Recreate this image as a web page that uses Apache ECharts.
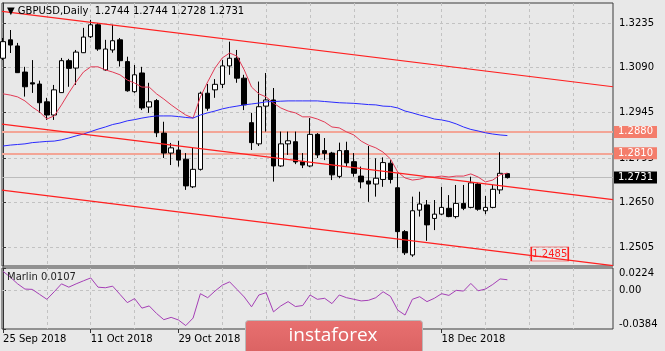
<!DOCTYPE html>
<html>
<head>
<meta charset="utf-8">
<script src="https://cdn.jsdelivr.net/npm/echarts@6/dist/echarts.min.js"></script>
<style>
html, body { margin: 0; padding: 0; background: #e8e8e8; }
#main { width: 665px; height: 351px; }
</style>
</head>
<body>
<div id="main"></div>
<script>
var myChart = echarts.init(document.getElementById('main'));

// GBPUSD daily bars, 25 Sep 2018 .. end of Dec 2018 (index 0 = 25 Sep)
var opens = [1.3120, 1.3180, 1.3160, 1.3075, 1.3040, 1.3036, 1.2978, 1.2935, 1.3008, 1.3112,
    1.3088, 1.3138, 1.3190, 1.3229, 1.3082, 1.3147, 1.3180, 1.3109, 1.3011, 1.3072,
    1.2961, 1.2982, 1.2876, 1.2811, 1.2821, 1.2791, 1.2701, 1.2758, 1.3006, 1.3017,
    1.3035, 1.3095, 1.3120, 1.3055, 1.2910, 1.2841, 1.2964, 1.2984, 1.2769, 1.2841,
    1.2848, 1.2783, 1.2769, 1.2872, 1.2819, 1.2811, 1.2735, 1.2819, 1.2783, 1.2736,
    1.2720, 1.2710, 1.2725, 1.2778, 1.2698, 1.2555, 1.2479, 1.2625, 1.2642, 1.2598,
    1.2612, 1.2631, 1.2604, 1.2647, 1.2634, 1.2710, 1.2623, 1.2634, 1.2691, 1.2744];
var highs = [1.3186, 1.3212, 1.3170, 1.3092, 1.3114, 1.3047, 1.2991, 1.3033, 1.3121, 1.3118,
    1.3147, 1.3219, 1.3245, 1.3235, 1.3180, 1.3229, 1.3186, 1.3125, 1.3098, 1.3092,
    1.3040, 1.2987, 1.2913, 1.2844, 1.2851, 1.2811, 1.2828, 1.3011, 1.3036, 1.3052,
    1.3114, 1.3174, 1.3147, 1.3066, 1.2942, 1.3044, 1.3072, 1.3023, 1.2881, 1.2881,
    1.2881, 1.2811, 1.2925, 1.2876, 1.2860, 1.2815, 1.2845, 1.2848, 1.2811, 1.2767,
    1.2834, 1.2794, 1.2797, 1.2788, 1.2745, 1.2560, 1.2669, 1.2685, 1.2658, 1.2658,
    1.2701, 1.2674, 1.2707, 1.2707, 1.2734, 1.2714, 1.2671, 1.2707, 1.2814, 1.2744];
var lows = [1.3114, 1.3137, 1.3072, 1.2995, 1.3007, 1.2942, 1.2919, 1.2919, 1.3007, 1.3027,
    1.3033, 1.3137, 1.3186, 1.3144, 1.3079, 1.3138, 1.3093, 1.3011, 1.3007, 1.2951,
    1.2942, 1.2863, 1.2795, 1.2772, 1.2767, 1.2691, 1.2697, 1.2754, 1.2949, 1.2991,
    1.3023, 1.3066, 1.3040, 1.2951, 1.2821, 1.2834, 1.2881, 1.2718, 1.2766, 1.2805,
    1.2775, 1.2762, 1.2765, 1.2795, 1.2788, 1.2723, 1.2729, 1.2767, 1.2734, 1.2696,
    1.2652, 1.2669, 1.2701, 1.2712, 1.2501, 1.2479, 1.2473, 1.2604, 1.2525, 1.2560,
    1.2609, 1.2602, 1.2598, 1.2625, 1.2631, 1.2623, 1.2612, 1.2631, 1.2678, 1.2728];
var closes = [1.3174, 1.3163, 1.3073, 1.3027, 1.3036, 1.2975, 1.2935, 1.3017, 1.3112, 1.3087,
    1.3140, 1.3189, 1.3229, 1.3150, 1.3150, 1.3177, 1.3112, 1.3014, 1.3066, 1.2958,
    1.2978, 1.2877, 1.2811, 1.2828, 1.2788, 1.2704, 1.2758, 1.3006, 1.2957, 1.3035,
    1.3095, 1.3120, 1.3055, 1.2968, 1.2845, 1.2962, 1.2984, 1.2769, 1.2841, 1.2851,
    1.2782, 1.2772, 1.2872, 1.2805, 1.2810, 1.2740, 1.2819, 1.2779, 1.2745, 1.2717,
    1.2710, 1.2729, 1.2780, 1.2725, 1.2555, 1.2486, 1.2623, 1.2645, 1.2577, 1.2612,
    1.2634, 1.2604, 1.2647, 1.2631, 1.2714, 1.2628, 1.2634, 1.2693, 1.2745, 1.2731];

// moving averages (red fast, blue slow)
var maFast = [1.3004, 1.3000, 1.2994, 1.2981, 1.2961, 1.2945, 1.2922, 1.2932, 1.2968, 1.3007,
    1.3043, 1.3075, 1.3092, 1.3092, 1.3082, 1.3075, 1.3066, 1.3049, 1.3039, 1.3026,
    1.3026, 1.3004, 1.2987, 1.2968, 1.2951, 1.2935, 1.2925, 1.2994, 1.3043, 1.3088,
    1.3121, 1.3137, 1.3127, 1.3082, 1.3026, 1.3004, 1.2994, 1.2974, 1.2958, 1.2948,
    1.2942, 1.2929, 1.2929, 1.2922, 1.2912, 1.2896, 1.2893, 1.2880, 1.2870, 1.2850,
    1.2837, 1.2828, 1.2814, 1.2792, 1.2749, 1.2730, 1.2723, 1.2726, 1.2733, 1.2733,
    1.2736, 1.2733, 1.2736, 1.2736, 1.2743, 1.2733, 1.2717, 1.2723, 1.2740, 1.2746];
var maSlow = [1.2834, 1.2837, 1.2839, 1.2841, 1.2845, 1.2847, 1.2849, 1.2850, 1.2854, 1.2860,
    1.2867, 1.2873, 1.2881, 1.2889, 1.2896, 1.2904, 1.2909, 1.2916, 1.2920, 1.2925,
    1.2929, 1.2932, 1.2932, 1.2932, 1.2930, 1.2927, 1.2925, 1.2935, 1.2942, 1.2948,
    1.2955, 1.2960, 1.2964, 1.2968, 1.2971, 1.2974, 1.2978, 1.2979, 1.2980, 1.2981,
    1.2981, 1.2981, 1.2981, 1.2981, 1.2979, 1.2977, 1.2975, 1.2974, 1.2973, 1.2971,
    1.2969, 1.2968, 1.2964, 1.2963, 1.2958, 1.2948, 1.2942, 1.2935, 1.2929, 1.2922,
    1.2919, 1.2914, 1.2906, 1.2896, 1.2888, 1.2883, 1.2877, 1.2873, 1.2870, 1.2868];

// Marlin oscillator
var marlin = [0.0191, 0.0132, 0.0066, 0.0014, 0.0011, -0.0039, -0.0088, -0.0013, 0.0066, 0.0033,
    0.0066, 0.0096, 0.0125, 0.0033, 0.0027, 0.0043, -0.0039, -0.0121, -0.0081, -0.0176,
    -0.0154, -0.0229, -0.0291, -0.0268, -0.0294, -0.0350, -0.0275, -0.0032, -0.0072, -0.0006,
    0.0053, 0.0086, 0.0011, -0.0065, -0.0163, -0.0045, -0.0022, -0.0213, -0.0154, -0.0111,
    -0.0160, -0.0150, -0.0045, -0.0088, -0.0078, -0.0131, -0.0045, -0.0072, -0.0088, -0.0104,
    -0.0098, -0.0072, -0.0013, -0.0058, -0.0196, -0.0245, -0.0088, -0.0062, -0.0111, -0.0078,
    -0.0032, -0.0049, 0.0001, -0.0006, 0.0070, -0.0003, 0.0014, 0.0060, 0.0115, 0.0107];

// trend channel (bar index, price)
var channelTop = [[-0.14, 1.3273], [83.45, 1.3027]];
var channelMid = [[-0.14, 1.2905], [83.45, 1.2659]];
var channelLow = [[-0.14, 1.2690], [83.45, 1.2444]];

var levels = [1.2880, 1.2810];
var lastPrice = 1.2731;
var targetNote = { idx: 74.8, price: 1.2482, text: '1.2485' };

var dateTickIdx = [0, 12, 24, 36, 48, 60];
var dateTickLabels = ['25 Sep 2018', '11 Oct 2018', '29 Oct 2018', '14 Nov 2018', '30 Nov 2018', '18 Dec 2018'];
var gridIdx = [6, 12, 18, 24, 30, 36, 42, 48, 54, 60, 66, 72, 78];
var priceTicks = [1.2505, 1.2650, 1.2795, 1.2945, 1.3090, 1.3235];
var marlinTicks = [-0.0384, 0, 0.0224];

var xMin = -0.14, xMax = 83.45;
var font = 'DejaVu Sans';
var dash = { color: '#c2c2c2', type: [3, 3], width: 1 };

function withIdx(arr) {
    return arr.map(function (v, i) { return [i, v]; });
}

var last = opens.length - 1;
var candles = opens.map(function (o, i) {
    return [i, o, closes[i], lows[i], highs[i]];
});

var splitXAxis = function (gi) {
    return {
        gridIndex: gi, type: 'value', min: xMin, max: xMax, position: 'bottom',
        axisLine: { show: false },
        axisTick: { show: false, customValues: gridIdx },
        axisLabel: { show: false },
        splitLine: { show: true, lineStyle: dash }
    };
};

option = {
    backgroundColor: '#e8e8e8',
    animation: false,
    textStyle: { fontFamily: font },
    title: [
        {
            text: '\u25BC GBPUSD,Daily  ' + opens[last].toFixed(4) + ' ' + highs[last].toFixed(4) + ' ' +
                lows[last].toFixed(4) + ' ' + closes[last].toFixed(4),
            left: 7, top: 6, padding: 0,
            textStyle: { fontSize: 10, fontWeight: 'normal', color: '#000', fontFamily: font }
        },
        {
            text: 'Marlin ' + marlin[last].toFixed(4),
            left: 7, top: 272, padding: 0,
            textStyle: { fontSize: 10, fontWeight: 'normal', color: '#222', fontFamily: font }
        }
    ],
    grid: [
        { left: 2, top: 3, width: 611, height: 263, show: true, borderColor: '#3a3a3a', borderWidth: 1, backgroundColor: 'transparent' },
        { left: 2, top: 268, width: 611, height: 61, show: true, borderColor: '#3a3a3a', borderWidth: 1, backgroundColor: 'transparent' }
    ],
    xAxis: [
        splitXAxis(0),
        splitXAxis(1),
        {
            gridIndex: 1, type: 'value', min: xMin, max: xMax, position: 'bottom',
            axisLine: { show: false },
            axisTick: { show: true, length: 4, customValues: dateTickIdx, lineStyle: { color: '#333' } },
            axisLabel: {
                customValues: dateTickIdx, align: 'left', margin: 5,
                color: '#000', fontSize: 10, fontFamily: font,
                formatter: function (v) { return dateTickLabels[dateTickIdx.indexOf(Math.round(v))]; }
            },
            splitLine: { show: false }
        }
    ],
    yAxis: [
        {
            gridIndex: 0, type: 'value', position: 'right', min: 1.2443, max: 1.3300,
            axisLine: { show: true, lineStyle: { color: '#333' } },
            axisTick: { show: true, length: 3, customValues: priceTicks, lineStyle: { color: '#333' } },
            axisLabel: {
                customValues: priceTicks, margin: 6, color: '#000', fontSize: 10, fontFamily: font,
                formatter: function (v) { return v.toFixed(4); }
            },
            splitLine: { show: true, lineStyle: dash }
        },
        {
            gridIndex: 1, type: 'value', position: 'right', min: -0.0384, max: 0.0224,
            axisLine: { show: true, lineStyle: { color: '#333' } },
            axisTick: { show: true, length: 3, customValues: marlinTicks, lineStyle: { color: '#333' } },
            axisLabel: {
                customValues: marlinTicks, margin: 6, color: '#000', fontSize: 10, fontFamily: font,
                verticalAlignMinLabel: 'bottom', verticalAlignMaxLabel: 'top',
                formatter: function (v) { return v === 0 ? '0.00' : v.toFixed(4); }
            },
            splitLine: { show: false }
        }
    ],
    series: [
        {
            name: 'levels', type: 'line', xAxisIndex: 0, yAxisIndex: 0, data: [], z: 1,
            markLine: {
                silent: true, symbol: ['none', 'none'], z: 1, precision: 4,
                label: {
                    show: true, position: 'end', distance: 1, padding: [1, 4, 1, 4],
                    fontSize: 10, fontFamily: font, color: '#fff',
                    formatter: function (p) { return Number(p.value).toFixed(4); }
                },
                data: levels.map(function (v) {
                    return { yAxis: v, lineStyle: { color: '#f3a596', width: 2, type: 'solid' },
                        label: { backgroundColor: '#f47d6b' } };
                }).concat([{ yAxis: lastPrice, lineStyle: { color: '#bcbcbc', width: 1, type: 'solid' },
                    label: { backgroundColor: '#000' } }])
            }
        },
        {
            name: 'GBPUSD', type: 'candlestick', xAxisIndex: 0, yAxisIndex: 0, z: 3,
            barWidth: 5,
            itemStyle: { color: '#fff', color0: '#000', borderColor: '#000', borderColor0: '#000', borderWidth: 1 },
            data: candles
        },
        {
            name: 'MA fast', type: 'line', xAxisIndex: 0, yAxisIndex: 0, z: 4,
            showSymbol: false, lineStyle: { color: '#e23a55', width: 1 },
            data: withIdx(maFast)
        },
        {
            name: 'MA slow', type: 'line', xAxisIndex: 0, yAxisIndex: 0, z: 4,
            showSymbol: false, lineStyle: { color: '#2a2aff', width: 1 },
            data: withIdx(maSlow)
        },
        {
            name: 'channel top', type: 'line', xAxisIndex: 0, yAxisIndex: 0, z: 4,
            showSymbol: false, lineStyle: { color: '#ff2020', width: 1.2 }, data: channelTop
        },
        {
            name: 'channel mid', type: 'line', xAxisIndex: 0, yAxisIndex: 0, z: 4,
            showSymbol: false, lineStyle: { color: '#ff2020', width: 1.2 }, data: channelMid
        },
        {
            name: 'channel low', type: 'line', xAxisIndex: 0, yAxisIndex: 0, z: 4,
            showSymbol: false, lineStyle: { color: '#ff2020', width: 1.2 }, data: channelLow,
            markPoint: {
                symbol: 'rect', symbolSize: [37, 14], silent: true,
                itemStyle: { color: 'rgba(0,0,0,0)', borderColor: '#ff2020', borderWidth: 1 },
                label: { show: true, position: 'inside', color: '#ff2020', fontSize: 10, fontFamily: font,
                    formatter: targetNote.text },
                data: [{ coord: [targetNote.idx, targetNote.price] }]
            }
        },
        {
            name: 'Marlin', type: 'line', xAxisIndex: 2, yAxisIndex: 1, z: 4,
            showSymbol: false, lineStyle: { color: '#a53fb6', width: 1 },
            data: withIdx(marlin),
            markLine: {
                silent: true, symbol: ['none', 'none'], z: 1,
                label: { show: false },
                lineStyle: { color: '#c2c2c2', type: [3, 3], width: 1 },
                data: [{ yAxis: 0 }]
            }
        }
    ],
    graphic: {
        elements: [
            {
                type: 'rect', left: 245, top: 320, z: 100,
                shape: { width: 177, height: 34, r: 3 },
                style: {
                    fill: new echarts.graphic.LinearGradient(0, 0, 0, 1, [
                        { offset: 0, color: '#e87070' }, { offset: 1, color: '#da6262' }
                    ]),
                    stroke: '#b9b9b9', lineWidth: 1
                }
            },
            {
                type: 'text', x: 333, y: 336, z: 101,
                style: { text: 'instaforex', fill: '#fff', font: '19px "Open Sans"',
                    textAlign: 'center', textVerticalAlign: 'middle' }
            }
        ]
    }
};

myChart.setOption(option);
</script>
</body>
</html>
